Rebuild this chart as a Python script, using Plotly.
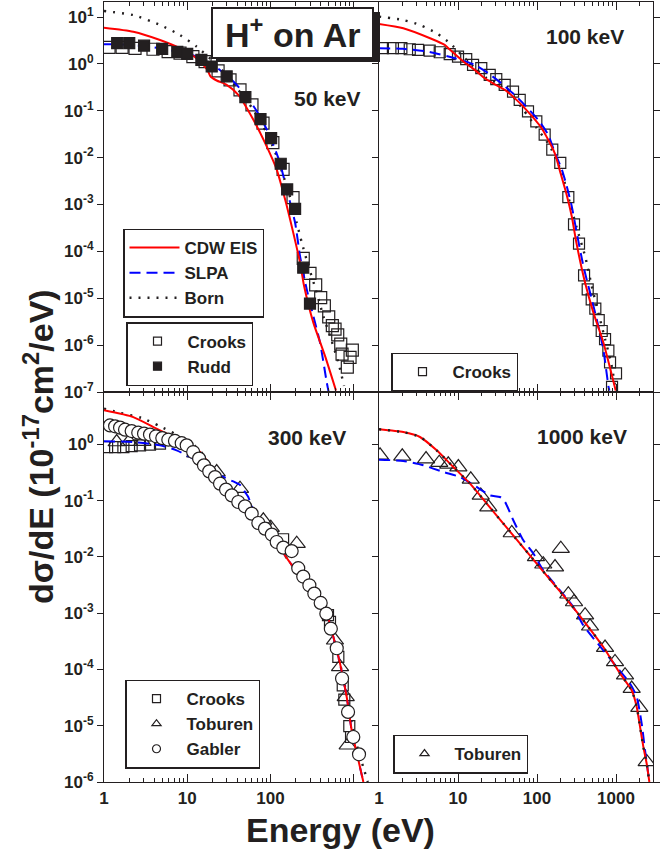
import plotly.graph_objects as go

# ---------------- data (energy in eV, dsigma/dE in 1e-17 cm^2/eV) ----------------
# ---- 50 keV ----
e_cdw_50 = [1, 2.25, 4.71, 8.18, 12.0, 14.9, 17.5, 19.1, 22.6, 29.8, 41.1, 62.4, 90.2, 119, 150, 188, 227, 254, 328, 453, 614]
cdw_50 = [5.92, 4.86, 3.24, 2.16, 1.45, 1.03, 0.745, 0.537, 0.442, 0.357, 0.219, 0.0646, 0.0174, 5.56e-3, 1.29e-3, 2.51e-4, 5.75e-5, 1.82e-5, 3.02e-6, 5.9e-7, 1.07e-7]
e_slpa_50 = [1, 2.0, 3.98, 6.31, 10, 14.2, 20.4, 35.9, 51.9, 75, 98.9, 130, 157, 198, 227, 273, 328, 394, 475, 501]
slpa_50 = [2.62, 2.57, 2.24, 1.95, 1.69, 1.32, 0.955, 0.42, 0.202, 0.0759, 0.0284, 7.76e-3, 2.09e-3, 4.07e-4, 7.9e-5, 1.55e-5, 4.17e-6, 1.15e-6, 1.62e-7, 1.0e-7]
e_born_50 = [1, 2.25, 4.71, 8.18, 13.0, 20.6, 29.8, 41.1, 62.4, 90.2, 119, 157, 180, 207, 238, 286, 360, 432, 520, 655, 767]
born_50 = [13.4, 11.0, 6.76, 4.14, 2.33, 1.12, 0.583, 0.28, 0.105, 0.0335, 0.0107, 2.45e-3, 1.1e-3, 4.07e-4, 1.55e-4, 4.9e-5, 1.32e-5, 4.17e-6, 1.58e-6, 4.27e-7, 1.35e-7]
e_rudd_50 = [1.44, 2.01, 3.03, 5.0, 7.6, 10, 14.8, 19.7, 29.8, 50, 76, 102, 133, 159, 198, 248, 299]
rudd_50 = [2.76, 2.76, 2.45, 2.09, 1.80, 1.63, 1.22, 0.88, 0.54, 0.195, 0.066, 0.026, 7.4e-3, 2.1e-3, 8.1e-4, 4.5e-5, 7.7e-6]
e_crooks_50 = [1.15, 1.65, 2.36, 3.88, 5.9, 8.2, 11.7, 16.4, 23.5, 32.7, 43.1, 60, 81.5, 107, 142, 187, 248, 299, 350, 402, 445, 502, 555, 598, 644, 700, 726, 965, 906, 840]
crooks_50 = [2.24, 2.24, 2.14, 2.05, 1.83, 1.69, 1.43, 1.12, 0.71, 0.457, 0.28, 0.134, 0.0547, 0.0209, 5.6e-3, 1.4e-3, 7.1e-5, 3.4e-5, 1.92e-5, 1.03e-5, 6.9e-6, 4.0e-6, 2.6e-6, 2.2e-6, 1.65e-6, 1.05e-6, 6.4e-7, 7.8e-7, 5.5e-7, 3.4e-7]

# ---- 100 keV ----
e_cdw_100 = [1, 2.03, 4.43, 6.78, 7.93, 11.7, 16.3, 21.8, 28.2, 39.0, 52.1, 69.8, 114, 167, 200, 238, 275, 318, 406, 516, 690, 991]
cdw_100 = [7.10, 5.75, 3.52, 2.54, 1.99, 1.12, 0.745, 0.495, 0.38, 0.28, 0.186, 0.114, 0.0429, 0.0126, 4.47e-3, 1.58e-3, 5.62e-4, 1.41e-4, 2.14e-5, 5.0e-6, 1.15e-6, 1.07e-7]
e_slpa_100 = [1, 2.0, 4.17, 9.08, 16.3, 24.0, 35.3, 57.5, 103, 138, 169, 206, 238, 275, 318, 386, 469, 570, 690, 800, 824]
slpa_100 = [2.16, 2.09, 1.83, 1.32, 0.953, 0.634, 0.388, 0.186, 0.0646, 0.0309, 0.0126, 5.56e-3, 2.45e-3, 9.2e-4, 2.51e-4, 4.9e-5, 1.32e-5, 3.55e-6, 8.2e-7, 1.36e-7, 1.07e-7]
e_born_100 = [1, 2.03, 3.30, 5.37, 7.93, 11.1, 15.6, 23.1, 30.8, 45.5, 67.1, 99.1, 146, 206, 262, 318, 406, 492, 597, 726, 865, 971]
born_100 = [10.2, 8.63, 6.76, 4.50, 2.75, 1.55, 0.877, 0.495, 0.389, 0.238, 0.105, 0.0429, 0.0174, 4.72e-3, 1.05e-3, 3.19e-4, 7.94e-5, 1.83e-5, 4.95e-6, 1.35e-6, 4.27e-7, 1.36e-7]
e_crooks_100 = [1.12, 1.50, 1.92, 2.45, 3.12, 4.38, 5.87, 7.85, 10, 12.7, 15.5, 19.7, 25.2, 30.5, 39, 49.7, 60.4, 76.9, 98, 125, 156, 197, 249, 294, 340, 394, 438, 492, 547, 604, 659, 726, 800, 840, 1000, 890]
crooks_100 = [2.16, 2.16, 2.16, 2.05, 1.99, 1.92, 1.77, 1.61, 1.43, 1.26, 0.952, 0.81, 0.583, 0.472, 0.357, 0.257, 0.171, 0.0966, 0.0592, 0.0309, 0.0148, 7.7e-3, 1.43e-3, 3.75e-4, 1.46e-4, 3.09e-5, 1.55e-5, 9.5e-6, 6.0e-6, 3.4e-6, 2.0e-6, 1.34e-6, 7.6e-7, 4.3e-7, 2.5e-7, 1.28e-7]

# ---- 300 keV ----
e_cdw_300 = [1, 2.25, 3.92, 6.21, 9.86, 14.3, 20.6, 35.8, 62.4, 108, 143, 172, 227, 360, 475, 570, 687, 826, 948, 1140, 1310]
cdw_300 = [4.02, 3.05, 2.03, 1.45, 1.03, 0.73, 0.355, 0.132, 0.0603, 0.0263, 0.0117, 7.94e-3, 4.68e-3, 2.09e-3, 9.77e-4, 3.8e-4, 1.27e-4, 3.24e-5, 8.3e-6, 2.45e-6, 1.0e-6]
e_slpa_300 = [1, 2.25, 4.71, 7.46, 10.8, 17.1, 24.8, 35.8, 43.2, 50.1, 54.2, 62.4, 79.4, 108, 143, 172, 227, 360, 475, 570, 687, 826, 948, 1140, 1310]
slpa_300 = [1.13, 1.10, 0.96, 0.782, 0.596, 0.395, 0.281, 0.219, 0.19, 0.138, 0.116, 0.0676, 0.0447, 0.0263, 0.0117, 7.94e-3, 4.68e-3, 2.09e-3, 9.77e-4, 3.8e-4, 1.27e-4, 3.24e-5, 8.3e-6, 2.45e-6, 1.0e-6]
e_born_300 = [1, 1.56, 2.82, 4.71, 7.0, 9.86, 14.3, 20.6, 35.8, 62.4, 108, 143, 172, 227, 360, 475, 570, 687, 826, 948, 1140, 1349, 1479]
born_300 = [4.31, 3.63, 2.95, 2.09, 1.55, 1.07, 0.76, 0.355, 0.132, 0.0603, 0.0263, 0.0117, 7.94e-3, 4.68e-3, 2.09e-3, 9.77e-4, 3.8e-4, 1.27e-4, 3.55e-5, 1.12e-5, 3.55e-6, 1.58e-6, 1.0e-6]
e_gabler_300 = [1.18, 1.36, 1.56, 1.79, 2.15, 2.58, 3.03, 3.57, 4.22, 5.02, 5.93, 7.13, 8.59, 9.86, 11.8, 13.9, 15.9, 18.4, 21.6, 24.8, 29.3, 34.3, 41.1, 49.5, 59.6, 71.6, 86.1, 104, 119, 143, 180, 216, 248, 294, 337, 402, 470, 532, 627, 726, 857, 991, 1161]
gabler_300 = [2.17, 2.09, 1.98, 1.82, 1.72, 1.61, 1.55, 1.49, 1.39, 1.29, 1.21, 1.15, 1.05, 0.96, 0.73, 0.557, 0.424, 0.331, 0.262, 0.2, 0.157, 0.124, 0.0944, 0.0792, 0.0587, 0.04, 0.0318, 0.0249, 0.0184, 0.0146, 0.0127, 6.3e-3, 4.47e-3, 3.13e-3, 2.23e-3, 1.52e-3, 9.8e-4, 5.3e-4, 2.38e-4, 6.9e-5, 1.76e-5, 6.3e-6, 3.1e-6]
e_crooks_300 = [1.09, 1.36, 1.71, 2.15, 2.71, 3.57, 4.71, 142, 492, 520, 655, 740, 773, 887, 931]
crooks_300 = [0.895, 0.895, 0.895, 0.933, 0.96, 0.989, 1.03, 0.0206, 9.2e-4, 7.0e-4, 1.67e-4, 5.2e-5, 2.92e-5, 9.8e-6, 6.3e-6]
e_toburen_300 = [1.42, 2.0, 2.9, 12.5, 22.6, 43.1, 82.2, 101, 207, 597, 687, 804, 849]
toburen_300 = [1.10, 1.12, 1.12, 0.70, 0.322, 0.163, 0.0447, 0.0331, 0.0172, 3.3e-4, 1.11e-4, 3.25e-5, 4.5e-6]

# ---- 1000 keV ----
e_cdw_1000 = [1, 2.03, 3.30, 5.37, 8.73, 14.2, 23.1, 37.5, 61.0, 99.1, 161, 262, 385, 690, 1125, 1578, 1828, 2014, 2218, 2443, 2642]
cdw_1000 = [1.85, 1.65, 1.35, 0.782, 0.395, 0.2, 0.0885, 0.0391, 0.0172, 7.6e-3, 3.36e-3, 1.48e-3, 7.48e-4, 2.51e-4, 8.45e-5, 4.27e-5, 2.16e-5, 9.55e-6, 4.21e-6, 2.13e-6, 1.0e-6]
e_born_1000 = [1, 2.03, 3.30, 5.37, 8.73, 14.2, 23.1, 37.5, 61.0, 99.1, 161, 262, 385, 690, 1125, 1578, 1828, 2014, 2218, 2443, 2642]
born_1000 = [1.85, 1.65, 1.35, 0.782, 0.395, 0.2, 0.0885, 0.0391, 0.0172, 7.6e-3, 3.36e-3, 1.48e-3, 7.48e-4, 2.51e-4, 8.45e-5, 4.27e-5, 2.16e-5, 9.55e-6, 4.21e-6, 2.13e-6, 1.0e-6]
e_slpa_1000 = [1, 2.03, 3.64, 6.52, 10.6, 17.2, 25.4, 34.0, 39.4, 50.1, 67.1, 89.9, 120, 195, 288, 385, 690, 1019, 1503, 1828, 2113, 2328, 2642]
slpa_1000 = [0.535, 0.505, 0.424, 0.322, 0.262, 0.175, 0.124, 0.116, 0.0944, 0.0447, 0.0197, 0.0115, 5.78e-3, 2.55e-3, 1.29e-3, 6.1e-4, 2.19e-4, 1.11e-4, 5.62e-5, 3.25e-5, 1.09e-5, 3.67e-6, 1.0e-6]
e_toburen_1000 = [1.03, 1.97, 3.94, 5.79, 7.53, 10.1, 14.5, 19.4, 24.2, 47.9, 97.0, 120, 169, 200, 249, 294, 406, 469, 726, 971, 1300, 1578, 1972, 2443]
toburen_1000 = [0.638, 0.612, 0.548, 0.473, 0.442, 0.395, 0.239, 0.124, 0.0769, 0.0266, 0.01, 7.4e-3, 6.6e-3, 0.014, 2.17e-3, 1.58e-3, 9.2e-4, 5.85e-4, 2.45e-4, 1.36e-4, 7.9e-5, 4.58e-5, 2.1e-5, 2.28e-6]

# tick labels
x_major = [1, 10, 100, 1000]
x_labels_left = ["1", "10", "100", ""]
x_labels_right = ["1", "10", "100", "1000"]
x_minor = [2, 3, 4, 5, 6, 7, 8, 9, 20, 30, 40, 50, 60, 70, 80, 90,
           200, 300, 400, 500, 600, 700, 800, 900, 2000, 3000]
y_top_vals = [10, 1, 0.1, 0.01, 1e-3, 1e-4, 1e-5, 1e-6, 1e-7]
y_top_text = ["10<sup>1</sup>", "10<sup>0</sup>", "10<sup>-1</sup>", "10<sup>-2</sup>", "10<sup>-3</sup>",
              "10<sup>-4</sup>", "10<sup>-5</sup>", "10<sup>-6</sup>", "10<sup>-7</sup>"]
y_bot_vals = [1, 0.1, 0.01, 1e-3, 1e-4, 1e-5, 1e-6]
y_bot_text = ["10<sup>0</sup>", "10<sup>-1</sup>", "10<sup>-2</sup>", "10<sup>-3</sup>",
              "10<sup>-4</sup>", "10<sup>-5</sup>", "10<sup>-6</sup>"]

# ---------------- styling ----------------
FONT = "Liberation Sans, Arial, Helvetica, sans-serif"
INK = "#231f20"
RED = "#ff0000"
BLUE = "#0000ff"
DASH = "11px,6px"
DOT = "2px,7px"

fig = go.Figure()


def add_line(x, y, color, dash, xa, ya, width=2):
    fig.add_trace(go.Scatter(x=x, y=y, mode="lines", xaxis=xa, yaxis=ya, showlegend=False,
                             hoverinfo="skip",
                             line=dict(color=color, width=width, dash=dash, shape="spline", smoothing=0.6)))


def add_pts(x, y, symbol, size, fill, xa, ya):
    fig.add_trace(go.Scatter(x=x, y=y, mode="markers", xaxis=xa, yaxis=ya, showlegend=False,
                             hoverinfo="skip",
                             marker=dict(symbol=symbol, size=size, color=fill,
                                         line=dict(color=INK, width=1.2))))


def add_legend_line(name, color, dash, legend, width=2):
    fig.add_trace(go.Scatter(x=[None], y=[None], mode="lines", name=name, legend=legend,
                             xaxis="x", yaxis="y",
                             line=dict(color=color, width=width, dash=dash)))


def add_legend_pts(name, symbol, fill, legend, xa, ya):
    fig.add_trace(go.Scatter(x=[None], y=[None], mode="markers", name=name, legend=legend,
                             xaxis=xa, yaxis=ya,
                             marker=dict(symbol=symbol, size=8, color=fill,
                                         line=dict(color=INK, width=1.2))))


# 50 keV (top-left)
add_pts(e_crooks_50, crooks_50, "square-open", 12, INK, "x", "y")
add_line(e_born_50, born_50, INK, DOT, "x", "y", 2.4)
add_line(e_slpa_50, slpa_50, BLUE, DASH, "x", "y")
add_line(e_cdw_50, cdw_50, RED, "solid", "x", "y")
add_pts(e_rudd_50, rudd_50, "square", 11, INK, "x", "y")

# 100 keV (top-right)
add_pts(e_crooks_100, crooks_100, "square-open", 11, INK, "x2", "y2")
add_line(e_born_100, born_100, INK, DOT, "x2", "y2", 2.4)
add_line(e_slpa_100, slpa_100, BLUE, DASH, "x2", "y2")
add_line(e_cdw_100, cdw_100, RED, "solid", "x2", "y2")

# 300 keV (bottom-left)
add_pts(e_crooks_300, crooks_300, "square-open", 11, INK, "x3", "y3")
add_pts(e_toburen_300, toburen_300, "triangle-up-open", 15, INK, "x3", "y3")
add_line(e_born_300, born_300, INK, DOT, "x3", "y3", 2.4)
add_line(e_slpa_300, slpa_300, BLUE, DASH, "x3", "y3")
add_line(e_cdw_300, cdw_300, RED, "solid", "x3", "y3")
add_pts(e_gabler_300, gabler_300, "circle", 13, "white", "x3", "y3")

# 1000 keV (bottom-right)
add_pts(e_toburen_1000, toburen_1000, "triangle-up-open", 15, INK, "x4", "y4")
add_line(e_slpa_1000, slpa_1000, BLUE, DASH, "x4", "y4")
add_line(e_cdw_1000, cdw_1000, RED, "solid", "x4", "y4")
add_line(e_born_1000, born_1000, INK, DOT, "x4", "y4", 2.4)

# legend entries
add_legend_line("CDW EIS", RED, "solid", "legend")
add_legend_line("SLPA", BLUE, DASH, "legend")
add_legend_line("Born", INK, DOT, "legend", 2.4)
add_legend_pts("Crooks", "square-open", INK, "legend2", "x", "y")
add_legend_pts("Rudd", "square", INK, "legend2", "x", "y")
add_legend_pts("Crooks", "square-open", INK, "legend3", "x2", "y2")
add_legend_pts("Crooks", "square-open", INK, "legend4", "x3", "y3")
add_legend_pts("Toburen", "triangle-up-open", INK, "legend4", "x3", "y3")
add_legend_pts("Gabler", "circle-open", INK, "legend4", "x3", "y3")
add_legend_pts("Toburen", "triangle-up-open", INK, "legend5", "x4", "y4")

# ---------------- layout ----------------
W, H = 668, 854
ML, MR, MT, MB = 104, 15, 2, 72
PW, PH = W - ML - MR, H - MT - MB


def px_x(p):
    return (p - ML) / PW


def px_y(p):
    return (H - MB - p) / PH


XS = px_x(379)
tickfont = dict(family=FONT, size=17, color=INK, weight="bold")
LW = 1.2

xbase = dict(type="log", showline=True, linecolor=INK, linewidth=LW, mirror="allticks",
             ticks="inside", ticklen=8, tickwidth=1.2, tickcolor=INK, showgrid=False,
             zeroline=False, tickmode="array", tickvals=x_major, tickfont=tickfont,
             minor=dict(tickmode="array", tickvals=x_minor, ticks="inside", ticklen=4,
                        tickwidth=1, tickcolor=INK, showgrid=False))
ybase = dict(type="log", showline=True, linecolor=INK, linewidth=LW, ticks="outside",
             ticklen=6, tickwidth=1.2, tickcolor=INK, showgrid=False, zeroline=False,
             tickmode="array", tickfont=tickfont)

fig.update_layout(
    width=W, height=H, autosize=False,
    margin=dict(l=ML, r=MR, t=MT, b=MB),
    paper_bgcolor="white", plot_bgcolor="white",
    font=dict(family=FONT, color=INK, weight="bold"),
    xaxis=dict(xbase, domain=[0, XS], range=[0, 3.305], anchor="y", showticklabels=False),
    xaxis2=dict(xbase, domain=[XS, 1], range=[0, 3.468], anchor="y2", showticklabels=False),
    xaxis3=dict(xbase, domain=[0, XS], range=[0, 3.305], anchor="y3", ticktext=x_labels_left),
    xaxis4=dict(xbase, domain=[XS, 1], range=[0, 3.468], anchor="y4", ticktext=x_labels_right),
    yaxis=dict(ybase, domain=[0.5, 1], range=[-7, 1.32], anchor="x", tickvals=y_top_vals,
               ticktext=y_top_text, mirror=False),
    yaxis2=dict(ybase, domain=[0.5, 1], range=[-7, 1.32], anchor="x2", tickvals=y_top_vals,
                showticklabels=False, mirror="ticks"),
    yaxis3=dict(ybase, domain=[0, 0.5], range=[-6, 0.93], anchor="x3", tickvals=y_bot_vals,
                ticktext=y_bot_text, mirror=False),
    yaxis4=dict(ybase, domain=[0, 0.5], range=[-6, 0.93], anchor="x4", tickvals=y_bot_vals,
                showticklabels=False, mirror="ticks"),
)

legfont = dict(family=FONT, size=17, color=INK, weight="bold")
legbase = dict(bgcolor="white", bordercolor=INK, borderwidth=1.5, font=legfont,
               xanchor="left", yanchor="middle", itemwidth=50, tracegroupgap=0,
               traceorder="normal", itemclick=False)
fig.update_layout(
    legend=dict(legbase, x=px_x(123), y=px_y(273)),
    legend2=dict(legbase, x=px_x(126), y=px_y(354)),
    legend3=dict(legbase, x=px_x(391), y=px_y(372)),
    legend4=dict(legbase, x=px_x(125), y=px_y(724)),
    legend5=dict(legbase, x=px_x(393), y=px_y(754)),
)

# title box with drop shadow
fig.add_shape(type="rect", xref="paper", yref="paper", layer="above",
              x0=px_x(216), x1=px_x(380), y0=px_y(62), y1=px_y(12),
              fillcolor=INK, line=dict(width=0))
fig.add_shape(type="rect", xref="paper", yref="paper", layer="above",
              x0=px_x(212), x1=px_x(373), y0=px_y(58), y1=px_y(8),
              fillcolor="white", line=dict(color=INK, width=2))


def note(text, x, y, size, angle=0):
    fig.add_annotation(text=text, xref="paper", yref="paper", x=x, y=y, showarrow=False,
                       xanchor="center", yanchor="middle", textangle=angle,
                       font=dict(family=FONT, size=size, color=INK, weight="bold"))


note("H<sup>+</sup> on Ar", px_x(292.5), px_y(33), 34)
note("50 keV", px_x(327), px_y(98), 21)
note("100 keV", px_x(585), px_y(37), 21)
note("300 keV", px_x(307), px_y(437), 21)
note("1000 keV", px_x(582), px_y(436), 21)
note("Energy (eV)", px_x(340), px_y(830), 34)
note("dσ/dE (10<sup>-17</sup>cm<sup>2</sup>/eV)", px_x(38), px_y(447), 34, angle=-90)

fig.write_html("out.html")
